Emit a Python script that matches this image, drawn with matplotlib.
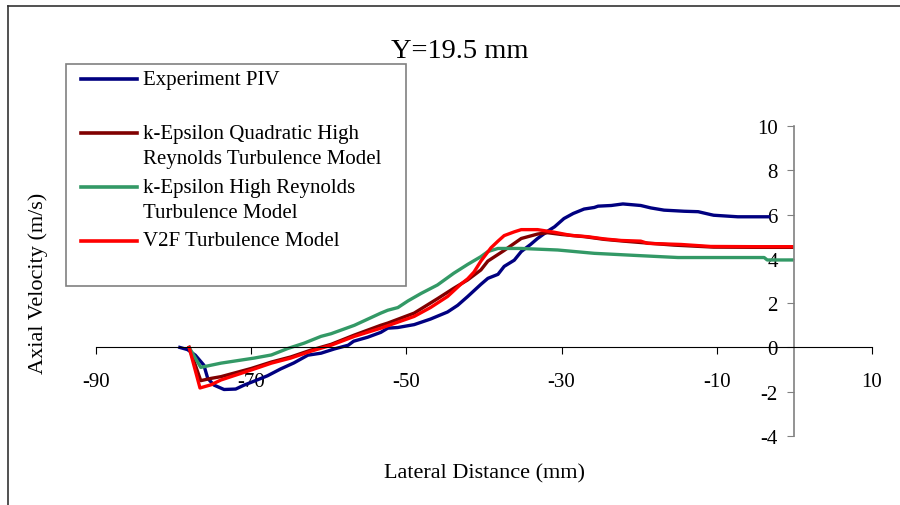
import matplotlib.pyplot as plt
from matplotlib.lines import Line2D
from matplotlib.patches import Rectangle

plt.rcParams['font.family'] = ['Liberation Serif', 'DejaVu Serif']

# Experiment PIV
exp_x = [-79.2, -78.2, -77.2, -76.1, -75.6, -74.8, -73.5, -72.0, -70.9, -69.6, -67.9, -66.2,
         -64.5, -62.7, -61.0, -59.3, -57.5, -56.8, -55.0, -53.3, -52.4, -51.1, -49.0, -46.9,
         -44.7, -43.4, -42.1, -40.4, -39.5, -38.2, -37.4, -36.1, -35.2, -34.0, -33.1, -31.8,
         -30.9, -29.7, -28.5, -27.1, -25.8, -25.3, -23.6, -22.1, -21.1, -19.8, -18.5, -16.8,
         -14.2, -12.4, -10.8, -10.4, -7.3, -5.0, -3.3]
exp_y = [0.0, -0.1, -0.35, -0.8, -1.4, -1.7, -1.9, -1.88, -1.7, -1.52, -1.28, -0.97,
         -0.7, -0.35, -0.26, -0.07, 0.1, 0.28, 0.46, 0.68, 0.87, 0.9, 1.03, 1.28,
         1.6, 1.9, 2.3, 2.85, 3.12, 3.3, 3.66, 3.94, 4.33, 4.65, 4.92, 5.25,
         5.45, 5.82, 6.05, 6.25, 6.32, 6.38, 6.41, 6.48, 6.45, 6.41, 6.3, 6.2,
         6.15, 6.13, 6.0, 5.97, 5.9, 5.9, 5.9]

# k-Epsilon Quadratic High Reynolds
kq_x = [-78.0, -76.5, -75.2, -73.9, -70.0, -67.4, -64.9, -62.3, -59.7, -56.7, -53.3, -52.4,
        -49.0, -46.0, -43.9, -42.1, -40.4, -39.5, -37.4, -35.2, -33.1, -31.8, -30.0, -27.0,
        -24.5, -22.0, -18.5, -15.5, -10.4, -5.0, -0.3]
kq_y = [0.0, -1.5, -1.4, -1.32, -0.95, -0.66, -0.43, -0.12, 0.14, 0.56, 1.0, 1.1,
        1.55, 2.2, 2.67, 3.05, 3.5, 3.9, 4.38, 4.92, 5.12, 5.18, 5.1, 5.0,
        4.88, 4.8, 4.7, 4.62, 4.53, 4.52, 4.52]

# k-Epsilon High Reynolds
ke_x = [-78.0, -76.5, -73.9, -69.6, -67.4, -65.3, -63.2, -61.0, -59.7, -56.7, -53.3, -52.4,
        -51.1, -49.8, -48.1, -46.0, -43.9, -42.1, -40.4, -39.5, -38.2, -35.2, -30.5, -25.8,
        -20.2, -15.0, -3.9, -3.5, -0.3]
ke_y = [0.0, -0.9, -0.71, -0.48, -0.34, -0.05, 0.19, 0.5, 0.62, 1.0, 1.55, 1.68,
        1.8, 2.1, 2.44, 2.82, 3.35, 3.75, 4.1, 4.33, 4.47, 4.47, 4.4, 4.25,
        4.15, 4.06, 4.06, 3.95, 3.95]

# V2F
v2f_x = [-78.0, -76.6, -75.2, -73.9, -72.0, -70.0, -67.4, -64.9, -62.3, -59.7, -56.7, -53.3,
         -49.0, -46.9, -44.7, -43.0, -42.1, -41.3, -40.4, -39.1, -38.2, -37.4, -36.1, -35.2,
         -33.1, -30.9, -28.8, -26.6, -24.5, -22.3, -19.8, -18.9, -14.6, -10.8, -5.0, -0.3]
v2f_y = [0.0, -1.83, -1.69, -1.47, -1.25, -1.02, -0.71, -0.48, -0.17, 0.1, 0.5, 0.87,
         1.4, 1.8, 2.3, 2.85, 3.1, 3.4, 3.9, 4.5, 4.8, 5.05, 5.22, 5.32,
         5.32, 5.2, 5.06, 5.0, 4.9, 4.83, 4.8, 4.7, 4.65, 4.56, 4.55, 4.55]

series = [
    (exp_x, exp_y, '#000080', ['Experiment PIV', '']),
    (kq_x, kq_y, '#800000', ['k-Epsilon Quadratic High', 'Reynolds Turbulence Model']),
    (ke_x, ke_y, '#339966', ['k-Epsilon High Reynolds', 'Turbulence Model']),
    (v2f_x, v2f_y, '#ff0000', ['V2F Turbulence Model', '']),
]

x_ticks = [-90, -70, -50, -30, -10, 10]
y_ticks = [-4, -2, 0, 2, 4, 6, 8, 10]

W, H = 900, 506


def fx(px):
    return px / W


def fy(py):
    return 1 - py / H


fig = plt.figure(figsize=(W / 100, H / 100), dpi=100)
ax = fig.add_axes([fx(96), fy(437), 776 / W, 310 / H])

for xs, ys, color, _ in series:
    ax.plot(xs, ys, color=color, linewidth=2.4, solid_joinstyle='round')

ax.set_xlim(-90, 10)
ax.set_ylim(-4, 10)
ax.set_xticks(x_ticks)
ax.set_yticks(y_ticks)
ax.set_xticklabels([str(v) for v in x_ticks])
ax.set_yticklabels([str(v) for v in y_ticks])

for s in ['top', 'right']:
    ax.spines[s].set_visible(False)
ax.spines['bottom'].set_position(('data', 0))
ax.spines['left'].set_position(('data', 0))
ax.spines['bottom'].set_color('black')
ax.spines['left'].set_color('#808080')
ax.spines['left'].set_linewidth(1.2)
ax.tick_params(axis='x', direction='out', length=5, color='black', labelsize=15, pad=13)
ax.tick_params(axis='y', direction='out', length=5, color='#808080', labelsize=15, pad=7)
ax.patch.set_visible(False)

fig.text(fx(460), fy(52), 'Y=19.5 mm', ha='center', va='center', fontsize=20.5)
fig.text(fx(485), fy(474), 'Lateral Distance (mm)', ha='center', va='center', fontsize=16)
fig.text(fx(38), fy(283), 'Axial Velocity (m/s)', ha='center', va='center',
         rotation=90, fontsize=16)

# chart area border (only left and top edges are inside the picture)
fig.add_artist(Line2D([fx(8), fx(8)], [fy(7), 0], transform=fig.transFigure,
                      color='#333333', linewidth=1.2))
fig.add_artist(Line2D([fx(8), 1], [fy(7), fy(7)], transform=fig.transFigure,
                      color='#333333', linewidth=1.2))

# legend box
fig.add_artist(Rectangle((fx(66), fy(287)), 340 / W, 222 / H, transform=fig.transFigure,
                         facecolor='white', edgecolor='#808080', linewidth=1.2))
row_y = 80
for _, _, color, lines in series:
    fig.add_artist(Line2D([fx(81), fx(137)], [fy(row_y), fy(row_y)], transform=fig.transFigure,
                          color=color, linewidth=2.6))
    for i, line in enumerate(lines):
        if line:
            fig.text(fx(143), fy(row_y + i * 26), line, ha='left', va='center', fontsize=15)
    row_y += 54

fig.savefig('out.png', dpi=100)
